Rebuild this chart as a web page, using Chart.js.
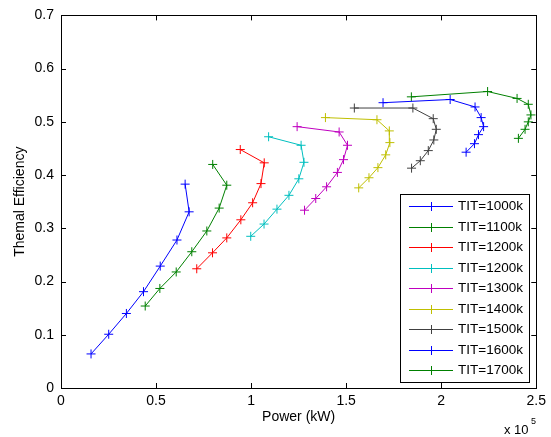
<!DOCTYPE html>
<html>
<head>
<meta charset="utf-8">
<script src="https://cdn.jsdelivr.net/npm/chart.js@4/dist/chart.umd.min.js"></script>
<style>
  html, body { margin: 0; padding: 0; background: #fff; }
  canvas { display: block; }
</style>
</head>
<body>
<canvas id="effChart" width="551" height="437"></canvas>
<script>
// series labels and colours (MATLAB default plot colours)
const seriesLabels = ['TIT=1000k', 'TIT=1100k', 'TIT=1200k', 'TIT=1200k', 'TIT=1300k', 'TIT=1400k', 'TIT=1500k', 'TIT=1600k', 'TIT=1700k'];
const seriesColors = ['#0000ff', '#008000', '#ff0000', '#00bfbf', '#bf00bf', '#bfbf00', '#404040', '#0000ff', '#008000'];

// power (kW) for each series
const power1000 = [15800, 25100, 34400, 43400, 52200, 61000, 67400, 65300];
const power1100 = [44300, 52000, 60600, 68800, 76700, 83200, 87200, 79800];
const power1200 = [71400, 79700, 87200, 94600, 100800, 105200, 106900, 94300];
const power1200b = [99800, 106800, 113600, 119900, 125100, 127800, 126300, 109200];
const power1300 = [128100, 134000, 139700, 145400, 148600, 150700, 146300, 124200];
const power1400 = [156600, 162000, 166700, 170800, 173000, 172700, 166200, 139100];
const power1500 = [184400, 189000, 193200, 196100, 197400, 195800, 185100, 154300];
const power1600 = [213100, 217500, 219600, 222300, 221000, 217800, 204700, 169400];
const power1700 = [240600, 244100, 245800, 247200, 245800, 239900, 224400, 184300];

// thermal efficiency for each series
const eff1000 = [0.064, 0.101, 0.140, 0.181, 0.229, 0.278, 0.331, 0.383];
const eff1100 = [0.154, 0.187, 0.218, 0.256, 0.295, 0.338, 0.381, 0.420];
const eff1200 = [0.224, 0.254, 0.282, 0.316, 0.348, 0.384, 0.423, 0.448];
const eff1200b = [0.285, 0.308, 0.336, 0.362, 0.393, 0.424, 0.456, 0.472];
const eff1300 = [0.334, 0.356, 0.378, 0.405, 0.429, 0.456, 0.481, 0.491];
const eff1400 = [0.376, 0.395, 0.414, 0.438, 0.461, 0.483, 0.504, 0.508];
const eff1500 = [0.413, 0.427, 0.446, 0.466, 0.486, 0.506, 0.526, 0.526];
const eff1600 = [0.443, 0.459, 0.476, 0.491, 0.508, 0.528, 0.542, 0.536];
const eff1700 = [0.469, 0.486, 0.500, 0.513, 0.533, 0.544, 0.557, 0.547];

const allPower = [power1000, power1100, power1200, power1200b, power1300, power1400, power1500, power1600, power1700];
const allEff = [eff1000, eff1100, eff1200, eff1200b, eff1300, eff1400, eff1500, eff1600, eff1700];

const xTicks = [0, 50000, 100000, 150000, 200000, 250000];
const yTicks = [0, 0.1, 0.2, 0.3, 0.4, 0.5, 0.6, 0.7];

const FONT = '"Liberation Sans", Arial, sans-serif';

const datasets = seriesLabels.map((label, i) => ({
  label: label,
  data: allPower[i].map((p, j) => ({ x: p, y: allEff[i][j] })),
  borderColor: seriesColors[i],
  backgroundColor: seriesColors[i],
  borderWidth: 1,
  showLine: true,
  pointStyle: 'cross',
  pointRadius: 4.5,
  pointBorderWidth: 1,
  pointHoverRadius: 4.5
}));

// box, inward ticks, exponent label and legend, drawn MATLAB style
const matlabAxes = {
  id: 'matlabAxes',
  afterDraw(chart) {
    const ctx = chart.ctx;
    const area = chart.chartArea;
    const xs = chart.scales.x;
    const ys = chart.scales.y;
    const tl = 5;
    ctx.save();
    ctx.strokeStyle = '#000';
    ctx.lineWidth = 1;
    ctx.beginPath();
    xTicks.forEach(v => {
      const px = Math.round(xs.getPixelForValue(v)) + 0.5;
      ctx.moveTo(px, area.bottom); ctx.lineTo(px, area.bottom - tl);
      ctx.moveTo(px, area.top); ctx.lineTo(px, area.top + tl);
    });
    yTicks.forEach(v => {
      const py = Math.round(ys.getPixelForValue(v)) + 0.5;
      ctx.moveTo(area.left, py); ctx.lineTo(area.left + tl, py);
      ctx.moveTo(area.right, py); ctx.lineTo(area.right - tl, py);
    });
    ctx.stroke();
    ctx.strokeRect(Math.round(area.left) + 0.5, Math.round(area.top) + 0.5,
      Math.round(area.right - area.left), Math.round(area.bottom - area.top));

    // x 10^5
    ctx.fillStyle = '#000';
    ctx.textBaseline = 'alphabetic';
    ctx.textAlign = 'left';
    ctx.font = '13px ' + FONT;
    ctx.fillText('x 10', 504, 434);
    ctx.font = '9px ' + FONT;
    ctx.fillText('5', 531, 424);

    // legend
    const lx = 400, ly = 194, lw = 129, lh = 188;
    ctx.fillStyle = '#fff';
    ctx.fillRect(lx, ly, lw, lh);
    ctx.strokeStyle = '#000';
    ctx.strokeRect(lx + 0.5, ly + 0.5, lw, lh);
    ctx.font = '13.5px ' + FONT;
    ctx.textBaseline = 'middle';
    seriesLabels.forEach((label, i) => {
      const y = Math.round(ly + 12 + i * 20.5) + 0.5;
      ctx.strokeStyle = seriesColors[i];
      ctx.beginPath();
      ctx.moveTo(409, y); ctx.lineTo(453, y);
      ctx.moveTo(431.5, y - 4.5); ctx.lineTo(431.5, y + 4.5);
      ctx.stroke();
      ctx.fillStyle = '#000';
      ctx.fillText(label, 458, y);
    });
    ctx.restore();
  }
};

new Chart(document.getElementById('effChart'), {
  type: 'scatter',
  data: { datasets: datasets },
  options: {
    responsive: false,
    animation: false,
    layout: { padding: { left: 0, right: 14, top: 14, bottom: 0 } },
    plugins: {
      legend: { display: false },
      tooltip: { enabled: false }
    },
    scales: {
      x: {
        type: 'linear',
        min: 0,
        max: 250000,
        afterFit: s => { s.height = 49; },
        afterBuildTicks: s => { s.ticks = xTicks.map(v => ({ value: v })); },
        grid: { display: false, drawTicks: false },
        border: { display: false },
        ticks: {
          padding: 5,
          color: '#000',
          font: { family: FONT, size: 14 },
          callback: v => String(v / 100000)
        },
        title: {
          display: true,
          text: 'Power (kW)',
          color: '#000',
          font: { family: FONT, size: 14 },
          padding: { top: 0, bottom: 11 }
        }
      },
      y: {
        type: 'linear',
        min: 0,
        max: 0.7,
        afterFit: s => { s.width = 61; },
        afterBuildTicks: s => { s.ticks = yTicks.map(v => ({ value: v })); },
        grid: { display: false, drawTicks: false },
        border: { display: false },
        ticks: {
          padding: 7,
          color: '#000',
          font: { family: FONT, size: 14 },
          callback: v => String(Math.round(v * 10) / 10)
        },
        title: {
          display: true,
          text: 'Themal Efficiency',
          color: '#000',
          font: { family: FONT, size: 14 },
          padding: { top: 12, bottom: 0 }
        }
      }
    }
  },
  plugins: [matlabAxes]
});
</script>
</body>
</html>
